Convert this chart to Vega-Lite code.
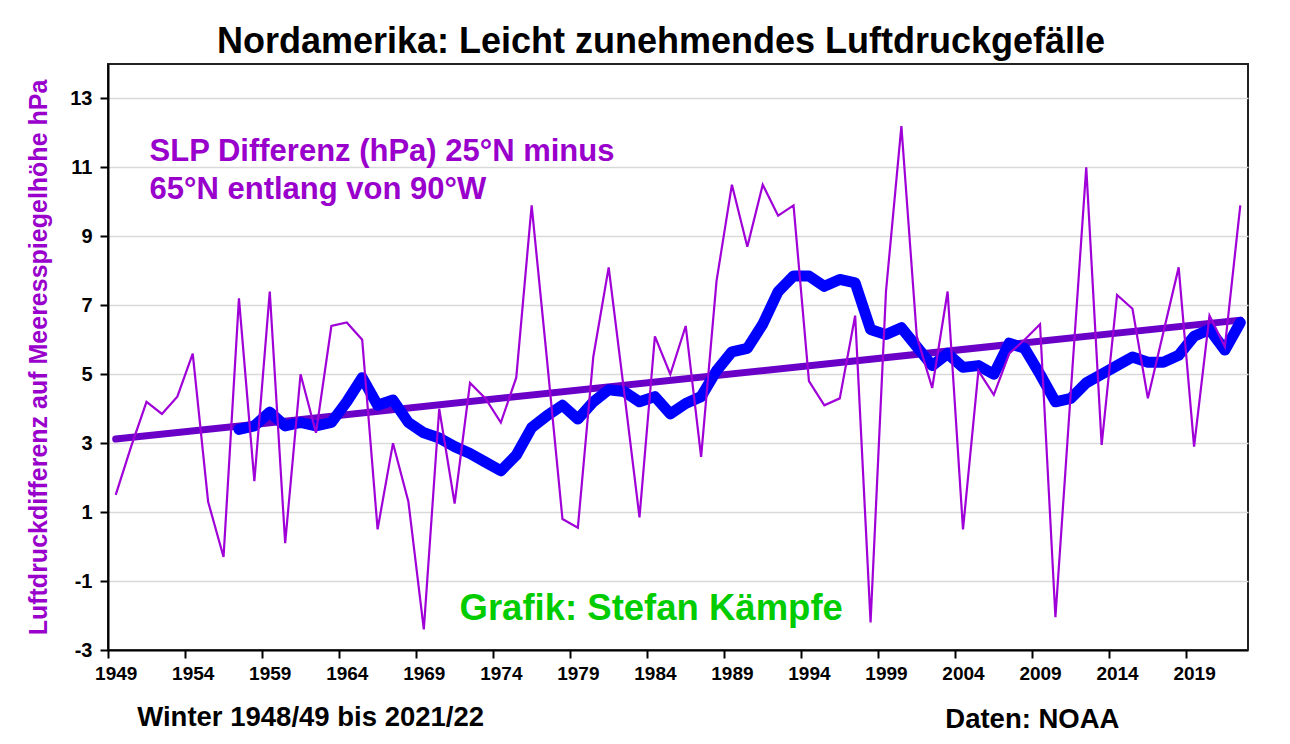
{
  "$schema": "https://vega.github.io/schema/vega-lite/v6.json",
  "autosize": "none",
  "width": 1140,
  "height": 586,
  "padding": {"left": 108, "top": 64, "right": 42, "bottom": 94},
  "background": "white",
  "config": {
    "font": "Liberation Sans",
    "view": {"stroke": "#222222", "strokeWidth": 2}
  },
  "title": {
    "text": "Nordamerika: Leicht zunehmendes Luftdruckgefälle",
    "font": "Liberation Sans",
    "fontSize": 36,
    "fontWeight": "bold",
    "color": "#000000",
    "anchor": "middle",
    "baseline": "bottom",
    "offset": 7,
    "dx": -17,
    "dy": 40
  },
  "datasets": {
    "series": [
      {"year": 1949, "slp": 1.5, "avg": null},
      {"year": 1950, "slp": 2.9, "avg": null},
      {"year": 1951, "slp": 4.2, "avg": null},
      {"year": 1952, "slp": 3.85, "avg": null},
      {"year": 1953, "slp": 4.35, "avg": null},
      {"year": 1954, "slp": 5.6, "avg": null},
      {"year": 1955, "slp": 1.3, "avg": null},
      {"year": 1956, "slp": -0.3, "avg": null},
      {"year": 1957, "slp": 7.2, "avg": 3.4},
      {"year": 1958, "slp": 1.9, "avg": 3.5},
      {"year": 1959, "slp": 7.4, "avg": 3.9},
      {"year": 1960, "slp": 0.1, "avg": 3.5},
      {"year": 1961, "slp": 5.0, "avg": 3.6},
      {"year": 1962, "slp": 3.3, "avg": 3.5},
      {"year": 1963, "slp": 6.4, "avg": 3.6},
      {"year": 1964, "slp": 6.5, "avg": 4.2},
      {"year": 1965, "slp": 6.0, "avg": 4.9},
      {"year": 1966, "slp": 0.5, "avg": 4.1},
      {"year": 1967, "slp": 3.0, "avg": 4.25},
      {"year": 1968, "slp": 1.3, "avg": 3.6},
      {"year": 1969, "slp": -2.4, "avg": 3.3},
      {"year": 1970, "slp": 4.0, "avg": 3.15},
      {"year": 1971, "slp": 1.25, "avg": 2.9},
      {"year": 1972, "slp": 4.75, "avg": 2.7},
      {"year": 1973, "slp": 4.3, "avg": 2.45},
      {"year": 1974, "slp": 3.6, "avg": 2.2},
      {"year": 1975, "slp": 4.9, "avg": 2.65},
      {"year": 1976, "slp": 9.9, "avg": 3.45},
      {"year": 1977, "slp": 5.4, "avg": 3.8},
      {"year": 1978, "slp": 0.8, "avg": 4.1},
      {"year": 1979, "slp": 0.55, "avg": 3.7},
      {"year": 1980, "slp": 5.5, "avg": 4.2},
      {"year": 1981, "slp": 8.1, "avg": 4.55},
      {"year": 1982, "slp": 4.5, "avg": 4.5},
      {"year": 1983, "slp": 0.85, "avg": 4.2},
      {"year": 1984, "slp": 6.1, "avg": 4.35},
      {"year": 1985, "slp": 5.0, "avg": 3.85},
      {"year": 1986, "slp": 6.4, "avg": 4.15},
      {"year": 1987, "slp": 2.6, "avg": 4.35},
      {"year": 1988, "slp": 7.7, "avg": 5.1},
      {"year": 1989, "slp": 10.5, "avg": 5.65},
      {"year": 1990, "slp": 8.7, "avg": 5.75},
      {"year": 1991, "slp": 10.5, "avg": 6.45},
      {"year": 1992, "slp": 9.6, "avg": 7.4},
      {"year": 1993, "slp": 9.9, "avg": 7.85},
      {"year": 1994, "slp": 4.8, "avg": 7.85},
      {"year": 1995, "slp": 4.1, "avg": 7.55},
      {"year": 1996, "slp": 4.3, "avg": 7.75},
      {"year": 1997, "slp": 6.7, "avg": 7.65},
      {"year": 1998, "slp": -2.2, "avg": 6.3},
      {"year": 1999, "slp": 7.4, "avg": 6.15},
      {"year": 2000, "slp": 12.2, "avg": 6.35},
      {"year": 2001, "slp": 6.1, "avg": 5.8},
      {"year": 2002, "slp": 4.6, "avg": 5.25},
      {"year": 2003, "slp": 7.4, "avg": 5.6},
      {"year": 2004, "slp": 0.5, "avg": 5.2},
      {"year": 2005, "slp": 5.1, "avg": 5.25},
      {"year": 2006, "slp": 4.4, "avg": 5.0},
      {"year": 2007, "slp": 5.6, "avg": 5.9},
      {"year": 2008, "slp": 6.0, "avg": 5.75},
      {"year": 2009, "slp": 6.45, "avg": 5.0},
      {"year": 2010, "slp": -2.05, "avg": 4.2},
      {"year": 2011, "slp": 4.5, "avg": 4.3},
      {"year": 2012, "slp": 11.0, "avg": 4.75},
      {"year": 2013, "slp": 2.95, "avg": 5.0},
      {"year": 2014, "slp": 7.3, "avg": 5.25},
      {"year": 2015, "slp": 6.9, "avg": 5.5},
      {"year": 2016, "slp": 4.3, "avg": 5.35},
      {"year": 2017, "slp": 6.2, "avg": 5.35},
      {"year": 2018, "slp": 8.1, "avg": 5.55},
      {"year": 2019, "slp": 2.9, "avg": 6.1},
      {"year": 2020, "slp": 6.7, "avg": 6.3},
      {"year": 2021, "slp": 5.8, "avg": 5.7},
      {"year": 2022, "slp": 9.9, "avg": 6.5}
    ],
    "trend": [
      {"year": 1949, "value": 3.12},
      {"year": 2022, "value": 6.57}
    ],
    "note": [
      {"year": 1951.2, "value": 11.45, "text": "SLP Differenz (hPa) 25°N minus"},
      {"year": 1951.2, "value": 10.35, "text": "65°N entlang von 90°W"}
    ],
    "credit": [
      {"year": 1983.76, "value": -1.81, "text": "Grafik: Stefan Kämpfe"}
    ],
    "footer": [
      {"year": 1950.4, "value": -4.97, "text": "Winter 1948/49 bis 2021/22"},
      {"year": 2002.85, "value": -5.03, "text": "Daten: NOAA"}
    ]
  },
  "layer": [
    {
      "data": {"name": "trend"},
      "mark": {"type": "line", "color": "#6A00C8", "strokeWidth": 7, "strokeCap": "round"},
      "encoding": {
        "x": {
          "field": "year", "type": "quantitative",
          "scale": {"domain": [1948.5, 2022.5], "nice": false, "zero": false},
          "axis": {
            "values": [1948.5, 1953.5, 1958.5, 1963.5, 1968.5, 1973.5, 1978.5, 1983.5, 1988.5, 1993.5, 1998.5, 2003.5, 2008.5, 2013.5, 2018.5],
            "labelExpr": "format(datum.value + 0.5, 'd')",
            "labelOffset": 7.7,
            "labelFont": "Liberation Sans",
            "labelFontSize": 19,
            "labelFontWeight": "bold",
            "labelColor": "#000000",
            "labelPadding": 6,
            "labelFlush": false,
            "labelOverlap": false,
            "tickSize": 8,
            "tickWidth": 2,
            "tickColor": "#000000",
            "domainColor": "#000000",
            "domainWidth": 2,
            "grid": false,
            "title": null
          }
        },
        "y": {
          "field": "value", "type": "quantitative",
          "scale": {"domain": [-3, 14], "nice": false, "zero": false},
          "axis": {
            "values": [-3, -1, 1, 3, 5, 7, 9, 11, 13],
            "labelExpr": "'' + datum.value",
            "labelFont": "Liberation Sans",
            "labelFontSize": 20,
            "labelFontWeight": "bold",
            "labelColor": "#000000",
            "labelPadding": 8,
            "tickSize": 8,
            "tickWidth": 2,
            "tickColor": "#000000",
            "domainColor": "#000000",
            "domainWidth": 2,
            "grid": true,
            "gridColor": "#D9D9D9",
            "gridWidth": 1.5,
            "title": "Luftdruckdifferenz auf Meeresspiegelhöhe hPa",
            "titleFont": "Liberation Sans",
            "titleFontSize": 25,
            "titleFontWeight": "bold",
            "titleColor": "#9900CC",
            "titlePadding": 18
          }
        }
      }
    },
    {
      "data": {"name": "series"},
      "transform": [{"filter": "datum.avg != null"}],
      "mark": {"type": "line", "color": "#0000FF", "strokeWidth": 11, "strokeJoin": "round", "strokeCap": "round"},
      "encoding": {
        "x": {"field": "year", "type": "quantitative"},
        "y": {"field": "avg", "type": "quantitative"}
      }
    },
    {
      "data": {"name": "series"},
      "mark": {"type": "line", "color": "#A000D8", "strokeWidth": 2.2},
      "encoding": {
        "x": {"field": "year", "type": "quantitative"},
        "y": {"field": "slp", "type": "quantitative"}
      }
    },
    {
      "data": {"name": "note"},
      "mark": {"type": "text", "align": "left", "baseline": "middle", "font": "Liberation Sans", "fontSize": 31, "fontWeight": "bold", "color": "#9900CC"},
      "encoding": {
        "x": {"field": "year", "type": "quantitative"},
        "y": {"field": "value", "type": "quantitative"},
        "text": {"field": "text"}
      }
    },
    {
      "data": {"name": "credit"},
      "mark": {"type": "text", "align": "center", "baseline": "middle", "font": "Liberation Sans", "fontSize": 36.5, "fontWeight": "bold", "color": "#00CC00"},
      "encoding": {
        "x": {"field": "year", "type": "quantitative"},
        "y": {"field": "value", "type": "quantitative"},
        "text": {"field": "text"}
      }
    },
    {
      "data": {"name": "footer"},
      "mark": {"type": "text", "align": "left", "baseline": "middle", "font": "Liberation Sans", "fontSize": 27.5, "fontWeight": "bold", "color": "#000000"},
      "encoding": {
        "x": {"field": "year", "type": "quantitative"},
        "y": {"field": "value", "type": "quantitative"},
        "text": {"field": "text"}
      }
    }
  ]
}
